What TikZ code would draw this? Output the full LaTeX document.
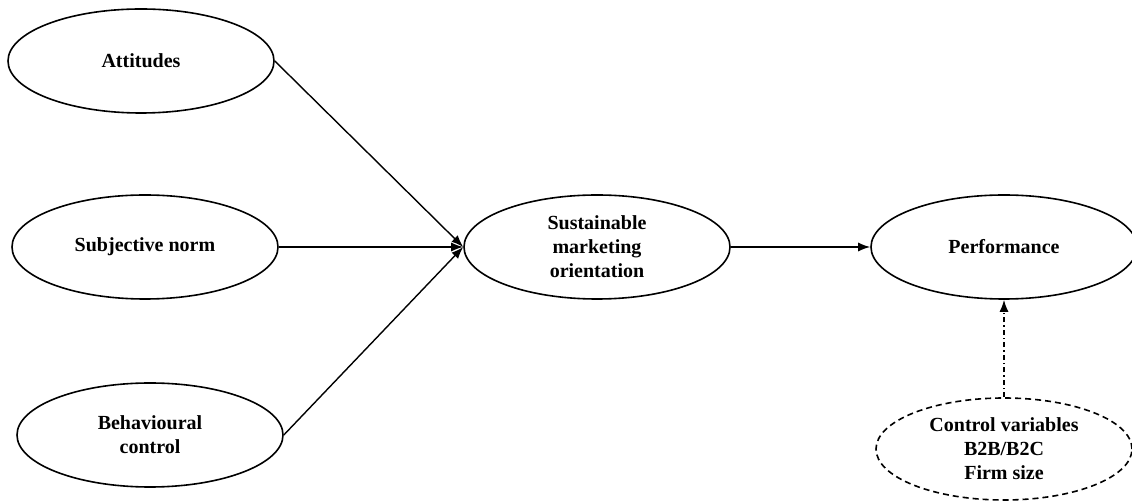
\documentclass[tikz,border=0pt]{standalone}
\usepackage{fontspec}
\setmainfont{Liberation Serif}
\usetikzlibrary{shapes.geometric,arrows.meta}
\begin{document}
\begin{tikzpicture}[x=1pt,y=1pt,
  construct/.style={ellipse,draw,line width=1.6pt,minimum width=266pt,minimum height=104pt,
    inner sep=0pt,align=center,font=\fontsize{20}{24}\selectfont\bfseries},
  ctrlbox/.style={construct,dashed,dash pattern=on 6pt off 4pt,minimum width=256pt,minimum height=102pt},
  path/.style={line width=1.4pt,-{Latex[length=12pt,width=9pt]}},
  ctrlpath/.style={line width=1.4pt,dash pattern=on 5pt off 3pt on 1.5pt off 3pt,-{Latex[length=12pt,width=9pt]}}]
\useasboundingbox (0,0) rectangle (1132,503);
% latent constructs (y measured from the bottom edge)
\node[construct] (att) at (141,442) {Attitudes};
\node[construct] (sn)  at (145,256) {Subjective norm};
\node[construct] (bc)  at (150,68)  {Behavioural\\control};
\node[construct] (smo) at (597,256) {Sustainable\\marketing\\orientation};
\node[construct] (perf) at (1004,256) {Performance};
\node[ctrlbox] (ctrl) at (1004,54) {Control variables\\B2B/B2C\\Firm size};
% structural paths
\draw[path] (att.east) -- (smo.west);
\draw[path] (sn.east) -- (smo.west);
\draw[path] (bc.east) -- (smo.west);
\draw[path] (smo.east) -- (perf.west);
\draw[ctrlpath] (ctrl.north) -- (perf.south);
\end{tikzpicture}
\end{document}
